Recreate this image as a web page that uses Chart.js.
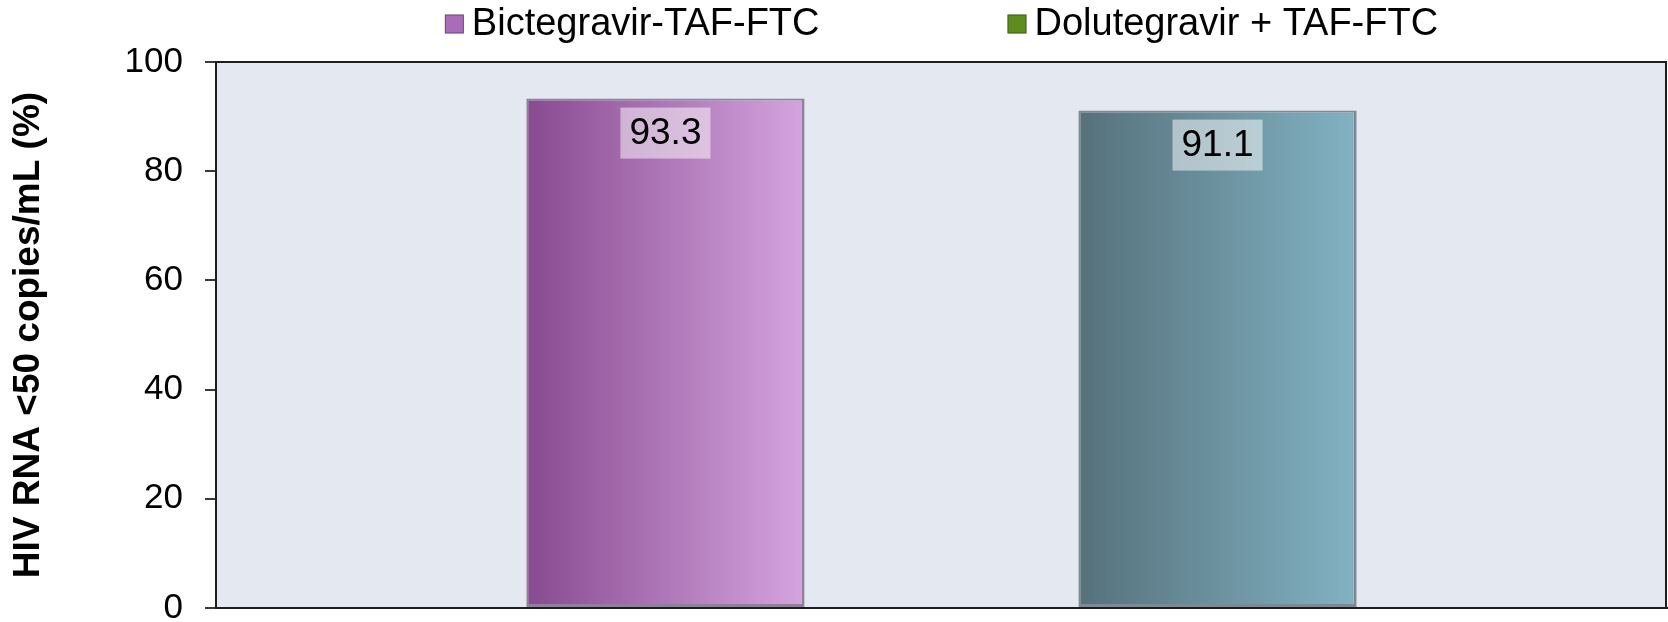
<!DOCTYPE html>
<html>
<head>
<meta charset="utf-8">
<title>HIV RNA &lt;50 copies/mL</title>
<script src="https://cdn.jsdelivr.net/npm/chart.js@4.4.1/dist/chart.umd.min.js"></script>
<style>
  html, body { margin: 0; padding: 0; background: #ffffff; }
  canvas { display: block; }
</style>
</head>
<body>
<canvas id="chartCanvas" width="1668" height="622"></canvas>
<script>
// data
const categories = [""];
const seriesNames = ["Bictegravir-TAF-FTC", "Dolutegravir + TAF-FTC"];
const bictegravirValues = [93.3];
const dolutegravirValues = [91.1];
const yMin = 0, yMax = 100, yStep = 20;
const yTitle = "HIV RNA <50 copies/mL (%)";

const FONT = '"Liberation Sans", Arial, Helvetica, sans-serif';
const legendColors = ["#a96cb9", "#5f8c1f"];

function barGradient(c, from, to) {
  const el = c.chart.getDatasetMeta(c.datasetIndex).data[c.dataIndex];
  if (!el || !el.width) return to;
  const g = c.chart.ctx.createLinearGradient(el.x - el.width / 2, 0, el.x + el.width / 2, 0);
  g.addColorStop(0, from);
  g.addColorStop(1, to);
  return g;
}

// plot area fill + frame
const plotFrame = {
  id: "plotFrame",
  beforeDraw(chart) {
    const { ctx, chartArea: a } = chart;
    ctx.save();
    ctx.fillStyle = "#e4e8f1";
    ctx.fillRect(a.left, a.top, a.right - a.left, a.bottom - a.top);
    ctx.restore();
  },
  afterDraw(chart) {
    const { ctx, chartArea: a } = chart;
    ctx.save();
    ctx.strokeStyle = "#1e1e1e";
    ctx.lineWidth = 2;
    ctx.strokeRect(a.left, a.top, a.right - a.left - 1, a.bottom - a.top);
    ctx.restore();
  },
};

// value boxes inside the bars
const valueBoxes = {
  id: "valueBoxes",
  afterDatasetsDraw(chart) {
    const ctx = chart.ctx;
    ctx.save();
    ctx.font = "37px " + FONT;
    ctx.textAlign = "center";
    ctx.textBaseline = "middle";
    chart.data.datasets.forEach((ds, i) => {
      chart.getDatasetMeta(i).data.forEach((el, j) => {
        const txt = ds.data[j].toFixed(1);
        const w = ctx.measureText(txt).width + 18;
        const h = 51;
        const top = el.y + 9;
        ctx.fillStyle = "rgba(255,255,255,0.5)";
        ctx.fillRect(el.x - w / 2, top, w, h);
        ctx.fillStyle = "#000";
        ctx.fillText(txt, el.x, top + h / 2 + 1);
      });
    });
    ctx.restore();
  },
};

// legend row above the plot
const topLegend = {
  id: "topLegend",
  afterDraw(chart) {
    const { ctx, chartArea: a } = chart;
    ctx.save();
    ctx.font = "38px " + FONT;
    ctx.textBaseline = "middle";
    const box = 19, gap = 8, itemGap = 188;
    const names = chart.data.datasets.map((d) => d.label);
    const widths = names.map((n) => ctx.measureText(n).width);
    let total = 0;
    widths.forEach((w, i) => { total += box + gap + w + (i ? itemGap : 0); });
    let x = (a.left + a.right) / 2 - total / 2;
    const cy = 24;
    names.forEach((n, i) => {
      ctx.fillStyle = legendColors[i];
      ctx.fillRect(x, cy - box / 2, box, box);
      ctx.strokeStyle = "rgba(0,0,0,0.35)";
      ctx.lineWidth = 1;
      ctx.strokeRect(x + 0.5, cy - box / 2 + 0.5, box - 1, box - 1);
      ctx.fillStyle = "#000";
      ctx.fillText(n, x + box + gap, cy + 1);
      x += box + gap + widths[i] + itemGap;
    });
    ctx.restore();
  },
};

const ctxChart = document.getElementById("chartCanvas").getContext("2d");

const chart = new Chart(ctxChart, {
  type: "bar",
  data: {
    labels: categories,
    datasets: [
      {
        label: seriesNames[0],
        data: bictegravirValues,
        backgroundColor: (c) => barGradient(c, "#874a8f", "#d5a4df"),
        borderColor: "rgba(70,45,80,0.55)",
        borderWidth: { left: 2, right: 3, top: 2, bottom: 3 },
        borderSkipped: false,
      },
      {
        label: seriesNames[1],
        data: dolutegravirValues,
        backgroundColor: (c) => barGradient(c, "#55717b", "#82b2c3"),
        borderColor: "rgba(40,60,70,0.55)",
        borderWidth: { left: 2, right: 3, top: 2, bottom: 3 },
        borderSkipped: false,
      },
    ],
  },
  options: {
    responsive: false,
    animation: false,
    devicePixelRatio: 1,
    categoryPercentage: 0.761,
    barPercentage: 0.504,
    layout: { padding: { top: 62, bottom: 14, left: 0, right: 1 } },
    plugins: {
      legend: { display: false },
      tooltip: { enabled: false },
    },
    scales: {
      x: {
        ticks: { display: false },
        grid: { display: false, drawTicks: false },
        border: { display: true, color: "#1e1e1e", width: 2 },
      },
      y: {
        min: yMin,
        max: yMax,
        ticks: {
          stepSize: yStep,
          color: "#000",
          padding: 22,
          font: { family: FONT, size: 35 },
        },
        grid: {
          drawOnChartArea: false,
          drawTicks: true,
          tickLength: 11,
          color: "#3a3a3a",
          lineWidth: 2,
        },
        border: { display: true, color: "#1e1e1e", width: 2 },
        title: {
          display: true,
          text: yTitle,
          color: "#000",
          padding: { top: 7, bottom: 0 },
          font: { family: FONT, size: 37, weight: "bold" },
        },
        afterFit(s) {
          s.width = 216;
          s.paddingTop = 0;
          s.paddingBottom = 0;
        },
      },
    },
  },
  plugins: [plotFrame, valueBoxes, topLegend],
});

// second pass so the gradients follow the laid-out bars
chart.update("none");
</script>
</body>
</html>
